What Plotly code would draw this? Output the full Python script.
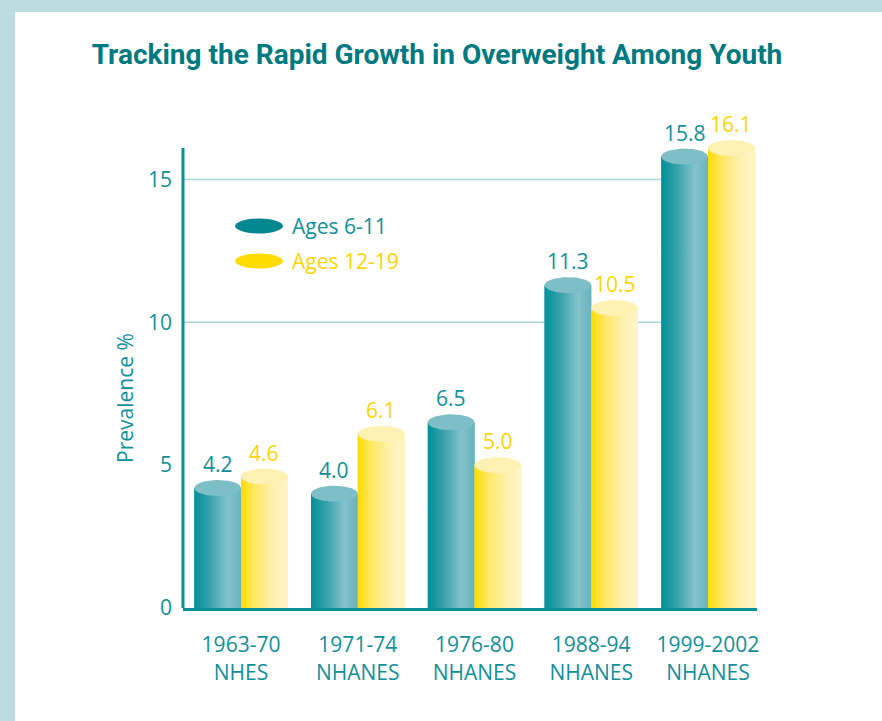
import numpy as np
import plotly.graph_objects as go

# ---- data ----
categories = ["1963-70<br>NHES", "1971-74<br>NHANES", "1976-80<br>NHANES",
              "1988-94<br>NHANES", "1999-2002<br>NHANES"]
ages_6_11 = [4.2, 4.0, 6.5, 11.3, 15.8]
ages_12_19 = [4.6, 6.1, 5.0, 10.5, 16.1]
series_names = ["Ages 6-11", "Ages 12-19"]
y_ticks = [0, 5, 10, 15]
grid_vals = [10, 15]

# ---- style ----
W, H = 882, 721
ML, MR, MT, MB = 183, 125, 108, 113
PW, PH = W - ML - MR, H - MT - MB
YMAX = 17.5
XR = [-0.497, 4.42]
BAR_W = 0.4
RY = 8 / (PH / YMAX)  # ellipse half-height in data units

TEAL = "#0a8f98"
TEAL_TXT = "#12909a"
YEL_TXT = "#fdd500"
BORDER = "#bcdcdf"
GRID = "#a9d4d8"
TXT_FONT = "Open Sans"

styles = [
    dict(offset=-BAR_W, grad=[[0, "#00909a"], [0.35, "#3aa2ac"], [0.72, "#86c3ca"], [1, "#66b3bd"]],
         top="#7dbec7", base="#3aa2ac", legend="#00878f", txt=TEAL_TXT),
    dict(offset=0.0, grad=[[0, "#ffdc00"], [0.3, "#ffe866"], [0.7, "#fff1b0"], [1, "#fff5c8"]],
         top="#fff1b3", base="#ffe866", legend="#ffdc00", txt=YEL_TXT),
]

def px2paper_x(px):
    return (px - ML) / PW

def px2paper_y(py):
    return ((H - MB) - py) / PH

fig = go.Figure()
xs = np.arange(len(categories))
theta = np.linspace(0, 2 * np.pi, 72)

for s_idx, (name, vals) in enumerate(zip(series_names, [ages_6_11, ages_12_19])):
    st = styles[s_idx]
    # base bars (covered by gradient bodies)
    fig.add_trace(go.Bar(x=xs, y=vals, width=BAR_W, offset=st["offset"],
                         marker=dict(color=st["base"], line=dict(width=0)),
                         name=name, showlegend=False, hoverinfo="skip"))
    for i, v in zip(xs, vals):
        x0 = i + st["offset"]
        x1 = x0 + BAR_W
        # gradient body
        fig.add_trace(go.Scatter(x=[x0, x0, x1, x1, x0], y=[0, v, v, 0, 0],
                                 mode="lines", fill="toself", line=dict(width=0, color=st["base"]),
                                 fillgradient=dict(type="horizontal", colorscale=st["grad"]),
                                 showlegend=False, hoverinfo="skip"))
        # top ellipse
        xc = (x0 + x1) / 2
        fig.add_trace(go.Scatter(x=xc + BAR_W / 2 * np.cos(theta), y=v + RY * np.sin(theta),
                                 mode="lines", fill="toself", fillcolor=st["top"],
                                 line=dict(width=0, color=st["top"]),
                                 showlegend=False, hoverinfo="skip"))
        fig.add_annotation(x=xc, y=v, yshift=24, text=f"{v:.1f}", showarrow=False,
                           xanchor="center", yanchor="middle",
                           font=dict(family=TXT_FONT, size=21, color=st["txt"]))

shapes = [
    # white panel over the light-blue frame
    dict(type="rect", xref="paper", yref="paper", layer="below",
         x0=px2paper_x(15), x1=px2paper_x(W + 5), y0=px2paper_y(12), y1=px2paper_y(H + 5),
         fillcolor="white", line=dict(width=0)),
]
for g in grid_vals:
    shapes.append(dict(type="line", xref="x", yref="y", layer="below",
                       x0=XR[0], x1=xs[-1] - BAR_W, y0=g, y1=g,
                       line=dict(color=GRID, width=1.5)))
# y axis line
shapes.append(dict(type="line", xref="paper", yref="y", x0=0, x1=0, y0=0,
                   y1=max(ages_6_11 + ages_12_19), line=dict(color=TEAL, width=3)))

# legend (custom ellipses + text)
leg_rows = [226, 261]
for s_idx, name in enumerate(series_names):
    cy = leg_rows[s_idx]
    shapes.append(dict(type="circle", xref="paper", yref="paper",
                       x0=px2paper_x(235), x1=px2paper_x(283),
                       y0=px2paper_y(cy - 7.5), y1=px2paper_y(cy + 7.5),
                       fillcolor=styles[s_idx]["legend"], line=dict(width=0)))
    fig.add_annotation(xref="paper", yref="paper", x=px2paper_x(290), y=px2paper_y(cy),
                       text=name, showarrow=False, xanchor="left", yanchor="middle",
                       font=dict(family=TXT_FONT, size=21, color=styles[s_idx]["txt"]))

# y axis title
fig.add_annotation(xref="paper", yref="paper", x=px2paper_x(125), y=px2paper_y(398),
                   text="Prevalence %", textangle=-90, showarrow=False,
                   xanchor="center", yanchor="middle",
                   font=dict(family=TXT_FONT, size=21, color=TEAL_TXT))

fig.update_layout(
    width=W, height=H,
    margin=dict(l=ML, r=MR, t=MT, b=MB, pad=0),
    paper_bgcolor=BORDER, plot_bgcolor="white",
    showlegend=False, barmode="overlay",
    shapes=shapes,
    title=dict(text="<b>Tracking the Rapid Growth in Overweight Among Youth</b>",
               xref="container", yref="container", x=437 / W, xanchor="center",
               y=1 - 54 / H, yanchor="middle",
               font=dict(family="Roboto", size=28, color="#007a80")),
    xaxis=dict(range=XR, tickvals=list(xs), ticktext=categories, showgrid=False,
               zeroline=False, showline=True, linecolor=TEAL, linewidth=3,
               ticks="", ticklabelstandoff=16,
               tickfont=dict(family=TXT_FONT, size=21, color=TEAL_TXT)),
    yaxis=dict(range=[0, YMAX], tickvals=y_ticks, showgrid=False, zeroline=False,
               showline=False, ticks="", ticklabelstandoff=10,
               tickfont=dict(family=TXT_FONT, size=21, color=TEAL_TXT)),
)

fig.write_html("out.html")
